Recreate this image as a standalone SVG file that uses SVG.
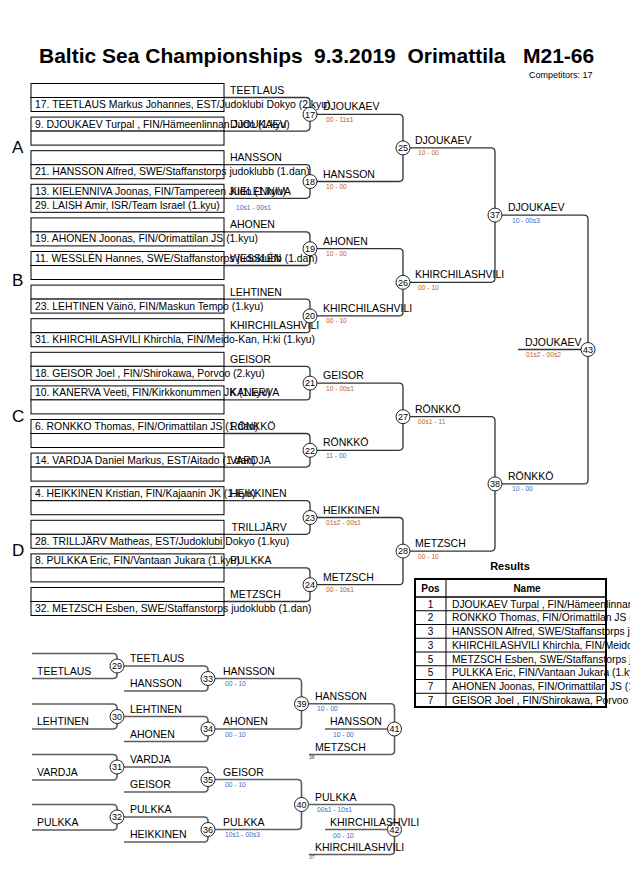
<svg xmlns="http://www.w3.org/2000/svg" width="630" height="891" viewBox="0 0 630 891">
<style>
text{font-family:"Liberation Sans",Arial,sans-serif;fill:#000}
.bx{fill:#fff;stroke:#000;stroke-width:1}
.et{font-size:10.4px}
.lb{font-size:10.5px}
.sc{font-size:6.7px}
.so{fill:#c0632c}
.sb{fill:#3a6cc8}
.ln{fill:none;stroke:#333;stroke-width:1.3}
.rl{fill:none;stroke:#5c5c5c;stroke-width:1.6}
.mc{fill:#fff;stroke:#222;stroke-width:1}
.mn{font-size:9px;text-anchor:middle}
.sec{font-size:17px}
.tiny{font-size:5px;fill:#444}
.th{font-size:10px;font-weight:bold;text-anchor:middle}
.td{font-size:10.3px}
.tp{font-size:10px;text-anchor:middle}
</style>

<g id="title">
<text font-size="21" font-weight="bold" y="63"><tspan x="39">Baltic Sea Championships</tspan><tspan x="314">9.3.2019</tspan><tspan x="407.5">Orimattila</tspan><tspan x="523">M21-66</tspan></text>
<text x="529" y="77.5" font-size="9">Competitors: 17</text>
</g>

<g id="sections">
<text class="sec" x="12" y="152.5">A</text>
<text class="sec" x="12" y="286">B</text>
<text class="sec" x="12" y="422">C</text>
<text class="sec" x="12" y="556">D</text>
</g>

<g id="connectors">
<path class="ln" d="M224 97.5H306Q310 97.5 310 101.5V127.1Q310 131.1 306 131.1H224"/>
<path class="ln" d="M224 164.7H306Q310 164.7 310 168.7V194.3Q310 198.3 306 198.3H224"/>
<path class="ln" d="M224 231.9H306Q310 231.9 310 235.9V261.5Q310 265.5 306 265.5H224"/>
<path class="ln" d="M224 299.1H306Q310 299.1 310 303.1V328.7Q310 332.7 306 332.7H224"/>
<path class="ln" d="M224 366.3H306Q310 366.3 310 370.3V395.9Q310 399.9 306 399.9H224"/>
<path class="ln" d="M224 433.5H306Q310 433.5 310 437.5V463.1Q310 467.1 306 467.1H224"/>
<path class="ln" d="M224 500.7H306Q310 500.7 310 504.7V530.3Q310 534.3 306 534.3H224"/>
<path class="ln" d="M224 567.9H306Q310 567.9 310 571.9V597.5Q310 601.5 306 601.5H224"/>
<path class="ln" d="M317 114.3H399Q403 114.3 403 118.3V177.5Q403 181.5 399 181.5H317"/>
<path class="ln" d="M317 248.7H399Q403 248.7 403 252.7V311.9Q403 315.9 399 315.9H317"/>
<path class="ln" d="M317 383.1H399Q403 383.1 403 387.1V446.3Q403 450.3 399 450.3H317"/>
<path class="ln" d="M317 517.5H399Q403 517.5 403 521.5V580.7Q403 584.7 399 584.7H317"/>
<path class="ln" d="M410 147.9H491Q495 147.9 495 151.9V278.3Q495 282.3 491 282.3H410"/>
<path class="ln" d="M410 416.7H491Q495 416.7 495 420.7V547.1Q495 551.1 491 551.1H410"/>
<path class="ln" d="M502 215.1H584Q588 215.1 588 219.1V479.9Q588 483.9 584 483.9H502"/>
<path class="ln" d="M518 349.5H581"/>
<path class="rl" d="M32 653.5H113Q117 653.5 117 657.5V674.5Q117 678.5 113 678.5H32"/>
<path class="rl" d="M32 704H113Q117 704 117 708V725Q117 729 113 729H32"/>
<path class="rl" d="M32 754.5H113Q117 754.5 117 758.5V776Q117 780 113 780H32"/>
<path class="rl" d="M32 804.5H113Q117 804.5 117 808.5V826Q117 830 113 830H32"/>
<path class="rl" d="M124 666H204Q208 666 208 670V687Q208 691 204 691H124"/>
<path class="rl" d="M124 716.5H204Q208 716.5 208 720.5V737.5Q208 741.5 204 741.5H124"/>
<path class="rl" d="M124 767H204Q208 767 208 771V788Q208 792 204 792H124"/>
<path class="rl" d="M124 817H204Q208 817 208 821V838Q208 842 204 842H124"/>
<path class="rl" d="M215 678.5H297.5Q301.5 678.5 301.5 682.5V725Q301.5 729 297.5 729H215"/>
<path class="rl" d="M215 779.5H297.5Q301.5 779.5 301.5 783.5V825.5Q301.5 829.5 297.5 829.5H215"/>
<path class="rl" d="M308.5 703.75H390.5Q394.5 703.75 394.5 707.75V750.5Q394.5 754.5 390.5 754.5H309"/>
<path class="rl" d="M325 729H387.5"/>
<path class="rl" d="M308.5 804.5H390.5Q394.5 804.5 394.5 808.5V850.5Q394.5 854.5 390.5 854.5H309"/>
<path class="rl" d="M325 829.5H387.5"/>
</g>

<g id="e0"><rect class="bx" x="31" y="83.5" width="193" height="14"/><rect class="bx" x="31" y="97.5" width="193" height="14"/><text class="et" x="35" y="108">17. TEETLAUS Markus Johannes, EST/Judoklubi Dokyo (2.kyu)</text><text class="lb" x="230" y="94">TEETLAUS</text></g>
<g id="e1"><rect class="bx" x="31" y="117.1" width="193" height="14"/><rect class="bx" x="31" y="131.1" width="193" height="14"/><text class="et" x="35" y="127.6">9. DJOUKAEV Turpal , FIN/Hämeenlinnan Judo (1.kyu)</text><text class="lb" x="230" y="127.6">DJOUKAEV</text></g>
<g id="e2"><rect class="bx" x="31" y="150.7" width="193" height="14"/><rect class="bx" x="31" y="164.7" width="193" height="14"/><text class="et" x="35" y="175.2">21. HANSSON Alfred, SWE/Staffanstorps judoklubb (1.dan)</text><text class="lb" x="230" y="161.2">HANSSON</text></g>
<g id="e3"><rect class="bx" x="31" y="184.3" width="193" height="14"/><rect class="bx" x="31" y="198.3" width="193" height="14"/><text class="et" x="35" y="194.8">13. KIELENNIVA Joonas, FIN/Tampereen Judo (1.kyu)</text><text class="et" x="35" y="208.8">29. LAISH Amir, ISR/Team Israel (1.kyu)</text><text class="lb" x="230" y="194.8">KIELENNIVA</text><text class="sc sb" x="236" y="209.5">10s1 - 00s1</text></g>
<g id="e4"><rect class="bx" x="31" y="217.9" width="193" height="14"/><rect class="bx" x="31" y="231.9" width="193" height="14"/><text class="et" x="35" y="242.4">19. AHONEN Joonas, FIN/Orimattilan JS (1.kyu)</text><text class="lb" x="230" y="228.4">AHONEN</text></g>
<g id="e5"><rect class="bx" x="31" y="251.5" width="193" height="14"/><rect class="bx" x="31" y="265.5" width="193" height="14"/><text class="et" x="35" y="262">11. WESSLÉN Hannes, SWE/Staffanstorps judoklubb (1.dan)</text><text class="lb" x="230" y="262">WESSLÉN</text></g>
<g id="e6"><rect class="bx" x="31" y="285.1" width="193" height="14"/><rect class="bx" x="31" y="299.1" width="193" height="14"/><text class="et" x="35" y="309.6">23. LEHTINEN Väinö, FIN/Maskun Tempo (1.kyu)</text><text class="lb" x="230" y="295.6">LEHTINEN</text></g>
<g id="e7"><rect class="bx" x="31" y="318.7" width="193" height="14"/><rect class="bx" x="31" y="332.7" width="193" height="14"/><text class="et" x="35" y="343.2">31. KHIRCHILASHVILI Khirchla, FIN/Meido-Kan, H:ki (1.kyu)</text><text class="lb" x="230" y="329.2">KHIRCHILASHVILI</text></g>
<g id="e8"><rect class="bx" x="31" y="352.3" width="193" height="14"/><rect class="bx" x="31" y="366.3" width="193" height="14"/><text class="et" x="35" y="376.8">18. GEISOR Joel , FIN/Shirokawa, Porvoo (2.kyu)</text><text class="lb" x="230" y="362.8">GEISOR</text></g>
<g id="e9"><rect class="bx" x="31" y="385.9" width="193" height="14"/><rect class="bx" x="31" y="399.9" width="193" height="14"/><text class="et" x="35" y="396.4">10. KANERVA Veeti, FIN/Kirkkonummen JK (1.kyu)</text><text class="lb" x="230" y="396.4">KANERVA</text></g>
<g id="e10"><rect class="bx" x="31" y="419.5" width="193" height="14"/><rect class="bx" x="31" y="433.5" width="193" height="14"/><text class="et" x="35" y="430">6. RONKKO Thomas, FIN/Orimattilan JS (1.dan)</text><text class="lb" x="230" y="430">RÖNKKÖ</text></g>
<g id="e11"><rect class="bx" x="31" y="453.1" width="193" height="14"/><rect class="bx" x="31" y="467.1" width="193" height="14"/><text class="et" x="35" y="463.6">14. VARDJA Daniel Markus, EST/Aitado (1.dan)</text><text class="lb" x="230" y="463.6">VARDJA</text></g>
<g id="e12"><rect class="bx" x="31" y="486.7" width="193" height="14"/><rect class="bx" x="31" y="500.7" width="193" height="14"/><text class="et" x="35" y="497.2">4. HEIKKINEN Kristian, FIN/Kajaanin JK (1.kyu)</text><text class="lb" x="230" y="497.2">HEIKKINEN</text></g>
<g id="e13"><rect class="bx" x="31" y="520.3" width="193" height="14"/><rect class="bx" x="31" y="534.3" width="193" height="14"/><text class="et" x="35" y="544.8">28. TRILLJÄRV Matheas, EST/Judoklubi Dokyo (1.kyu)</text><text class="lb" x="231.5" y="530.8">TRILLJÄRV</text></g>
<g id="e14"><rect class="bx" x="31" y="553.9" width="193" height="14"/><rect class="bx" x="31" y="567.9" width="193" height="14"/><text class="et" x="35" y="564.4">8. PULKKA Eric, FIN/Vantaan Jukara (1.kyu)</text><text class="lb" x="230" y="564.4">PULKKA</text></g>
<g id="e15"><rect class="bx" x="31" y="587.5" width="193" height="14"/><rect class="bx" x="31" y="601.5" width="193" height="14"/><text class="et" x="35" y="612">32. METZSCH Esben, SWE/Staffanstorps judoklubb (1.dan)</text><text class="lb" x="230" y="598">METZSCH</text></g>

<g id="m17"><circle class="mc" cx="310" cy="114.3" r="7"/><text class="mn" x="310" y="117.5">17</text><text class="lb" x="323" y="110.3">DJOUKAEV</text><text class="sc so" x="326" y="121.8">00 - 11s1</text></g>
<g id="m18"><circle class="mc" cx="310" cy="181.5" r="7"/><text class="mn" x="310" y="184.7">18</text><text class="lb" x="323" y="177.5">HANSSON</text><text class="sc so" x="326" y="189">10 - 00</text></g>
<g id="m19"><circle class="mc" cx="310" cy="248.7" r="7"/><text class="mn" x="310" y="251.9">19</text><text class="lb" x="323" y="244.7">AHONEN</text><text class="sc so" x="326" y="256.2">10 - 00</text></g>
<g id="m20"><circle class="mc" cx="310" cy="315.9" r="7"/><text class="mn" x="310" y="319.1">20</text><text class="lb" x="323" y="311.9">KHIRCHILASHVILI</text><text class="sc so" x="326" y="323.4">00 - 10</text></g>
<g id="m21"><circle class="mc" cx="310" cy="383.1" r="7"/><text class="mn" x="310" y="386.3">21</text><text class="lb" x="323" y="379.1">GEISOR</text><text class="sc so" x="326" y="390.6">10 - 00s1</text></g>
<g id="m22"><circle class="mc" cx="310" cy="450.3" r="7"/><text class="mn" x="310" y="453.5">22</text><text class="lb" x="323" y="446.3">RÖNKKÖ</text><text class="sc sb" x="326" y="457.8">11 - 00</text></g>
<g id="m23"><circle class="mc" cx="310" cy="517.5" r="7"/><text class="mn" x="310" y="520.7">23</text><text class="lb" x="323" y="513.5">HEIKKINEN</text><text class="sc so" x="326" y="525">01s2 - 00s1</text></g>
<g id="m24"><circle class="mc" cx="310" cy="584.7" r="7"/><text class="mn" x="310" y="587.9">24</text><text class="lb" x="323" y="580.7">METZSCH</text><text class="sc so" x="326" y="592.2">00 - 10s1</text></g>
<g id="m25"><circle class="mc" cx="403" cy="147.9" r="7"/><text class="mn" x="403" y="151.1">25</text><text class="lb" x="415" y="143.9">DJOUKAEV</text><text class="sc so" x="418" y="155.4">10 - 00</text></g>
<g id="m26"><circle class="mc" cx="403" cy="282.3" r="7"/><text class="mn" x="403" y="285.5">26</text><text class="lb" x="415" y="278.3">KHIRCHILASHVILI</text><text class="sc so" x="418" y="289.8">00 - 10</text></g>
<g id="m27"><circle class="mc" cx="403" cy="416.7" r="7"/><text class="mn" x="403" y="419.9">27</text><text class="lb" x="415" y="412.7">RÖNKKÖ</text><text class="sc so" x="418" y="424.2">00s1 - 11</text></g>
<g id="m28"><circle class="mc" cx="403" cy="551.1" r="7"/><text class="mn" x="403" y="554.3">28</text><text class="lb" x="415" y="547.1">METZSCH</text><text class="sc so" x="418" y="558.6">00 - 10</text></g>
<g id="m37"><circle class="mc" cx="495" cy="215.1" r="7"/><text class="mn" x="495" y="218.3">37</text><text class="lb" x="508" y="211.1">DJOUKAEV</text><text class="sc sb" x="512" y="222.6">10 - 00s3</text></g>
<g id="m38"><circle class="mc" cx="495" cy="483.9" r="7"/><text class="mn" x="495" y="487.1">38</text><text class="lb" x="508" y="479.9">RÖNKKÖ</text><text class="sc sb" x="512" y="491.4">10 - 00</text></g>
<g id="m43"><circle class="mc" cx="588" cy="349.5" r="7"/><text class="mn" x="588" y="352.7">43</text><text class="lb" x="525" y="345.5">DJOUKAEV</text><text class="sc so" x="526" y="357">01s2 - 00s2</text></g>

<g id="r29in"><text class="lb" x="37" y="674.5">TEETLAUS</text></g>
<g id="r30in"><text class="lb" x="37" y="725">LEHTINEN</text></g>
<g id="r31in"><text class="lb" x="37" y="776">VARDJA</text></g>
<g id="r32in"><text class="lb" x="37" y="826">PULKKA</text></g>

<g id="m29"><circle class="mc" cx="117" cy="666" r="7"/><text class="mn" x="117" y="669.2">29</text><text class="lb" x="130" y="662">TEETLAUS</text></g>
<g id="m30"><circle class="mc" cx="117" cy="716.5" r="7"/><text class="mn" x="117" y="719.7">30</text><text class="lb" x="130" y="712.5">LEHTINEN</text></g>
<g id="m31"><circle class="mc" cx="117" cy="767" r="7"/><text class="mn" x="117" y="770.2">31</text><text class="lb" x="130" y="763">VARDJA</text></g>
<g id="m32"><circle class="mc" cx="117" cy="817" r="7"/><text class="mn" x="117" y="820.2">32</text><text class="lb" x="130" y="813">PULKKA</text></g>

<g id="r33in"><text class="lb" x="130" y="687">HANSSON</text></g>
<g id="r34in"><text class="lb" x="130" y="737.5">AHONEN</text></g>
<g id="r35in"><text class="lb" x="130" y="788">GEISOR</text></g>
<g id="r36in"><text class="lb" x="130" y="838">HEIKKINEN</text></g>

<g id="m33"><circle class="mc" cx="208" cy="678.5" r="7"/><text class="mn" x="208" y="681.7">33</text><text class="lb" x="223" y="674.5">HANSSON</text><text class="sc sb" x="225" y="686">00 - 10</text></g>
<g id="m34"><circle class="mc" cx="208" cy="729" r="7"/><text class="mn" x="208" y="732.2">34</text><text class="lb" x="223" y="725">AHONEN</text><text class="sc sb" x="225" y="736.5">00 - 10</text></g>
<g id="m35"><circle class="mc" cx="208" cy="779.5" r="7"/><text class="mn" x="208" y="782.7">35</text><text class="lb" x="223" y="775.5">GEISOR</text><text class="sc sb" x="225" y="787">00 - 10</text></g>
<g id="m36"><circle class="mc" cx="208" cy="829.5" r="7"/><text class="mn" x="208" y="832.7">36</text><text class="lb" x="223" y="825.5">PULKKA</text><text class="sc sb" x="225" y="837">10s1 - 00s3</text></g>
<g id="m39"><circle class="mc" cx="301.5" cy="703.75" r="7"/><text class="mn" x="301.5" y="707">39</text><text class="lb" x="315" y="700">HANSSON</text><text class="sc sb" x="317" y="711">10 - 00</text></g>
<g id="m40"><circle class="mc" cx="301.5" cy="804.5" r="7"/><text class="mn" x="301.5" y="807.7">40</text><text class="lb" x="315" y="800.5">PULKKA</text><text class="sc sb" x="317" y="812">00s1 - 10s1</text></g>
<g id="m41"><circle class="mc" cx="394.5" cy="729" r="7"/><text class="mn" x="394.5" y="732.2">41</text><text class="lb" x="330" y="725">HANSSON</text><text class="sc sb" x="333" y="737">10 - 00</text><text class="lb" x="315" y="750.5">METZSCH</text><text class="tiny" x="309" y="759">38</text></g>
<g id="m42"><circle class="mc" cx="394.5" cy="829.5" r="7"/><text class="mn" x="394.5" y="832.7">42</text><text class="lb" x="330" y="826">KHIRCHILASHVILI</text><text class="sc sb" x="333" y="837.5">00 - 10</text><text class="lb" x="315" y="851">KHIRCHILASHVILI</text><text class="tiny" x="309" y="859">37</text></g>

<g id="results">
<text x="510" y="570" font-size="11" font-weight="bold" text-anchor="middle">Results</text>
<rect x="415" y="579" width="191" height="128" fill="#fff" stroke="none"/>
<g stroke="#000" stroke-width="1">
<line x1="415" y1="610.75" x2="606" y2="610.75"/>
<line x1="415" y1="624.5" x2="606" y2="624.5"/>
<line x1="415" y1="638.25" x2="606" y2="638.25"/>
<line x1="415" y1="652" x2="606" y2="652"/>
<line x1="415" y1="665.75" x2="606" y2="665.75"/>
<line x1="415" y1="679.5" x2="606" y2="679.5"/>
<line x1="415" y1="693.25" x2="606" y2="693.25"/>
<line x1="446" y1="579" x2="446" y2="707"/>
</g>
<text class="th" x="430.5" y="592">Pos</text>
<text class="th" x="527" y="592">Name</text>
<text class="tp" x="430.5" y="607.5">1</text><text class="td" x="452" y="607.5">DJOUKAEV Turpal , FIN/Hämeenlinnan Judo (1.kyu)</text>
<text class="tp" x="430.5" y="621.25">2</text><text class="td" x="452" y="621.25">RONKKO Thomas, FIN/Orimattilan JS (1.dan)</text>
<text class="tp" x="430.5" y="635">3</text><text class="td" x="452" y="635">HANSSON Alfred, SWE/Staffanstorps judoklubb (1.dan)</text>
<text class="tp" x="430.5" y="648.75">3</text><text class="td" x="452" y="648.75">KHIRCHILASHVILI Khirchla, FIN/Meido-Kan, H:ki (1.kyu)</text>
<text class="tp" x="430.5" y="662.5">5</text><text class="td" x="452" y="662.5">METZSCH Esben, SWE/Staffanstorps judoklubb (1.dan)</text>
<text class="tp" x="430.5" y="676.25">5</text><text class="td" x="452" y="676.25">PULKKA Eric, FIN/Vantaan Jukara (1.kyu)</text>
<text class="tp" x="430.5" y="690">7</text><text class="td" x="452" y="690">AHONEN Joonas, FIN/Orimattilan JS (1.kyu)</text>
<text class="tp" x="430.5" y="703.75">7</text><text class="td" x="452" y="703.75">GEISOR Joel , FIN/Shirokawa, Porvoo (2.kyu)</text>
<rect x="415" y="579" width="191" height="128" fill="none" stroke="#000" stroke-width="2"/>
<line x1="415" y1="597" x2="606" y2="597" stroke="#000" stroke-width="1.6"/>
</g>
</svg>
